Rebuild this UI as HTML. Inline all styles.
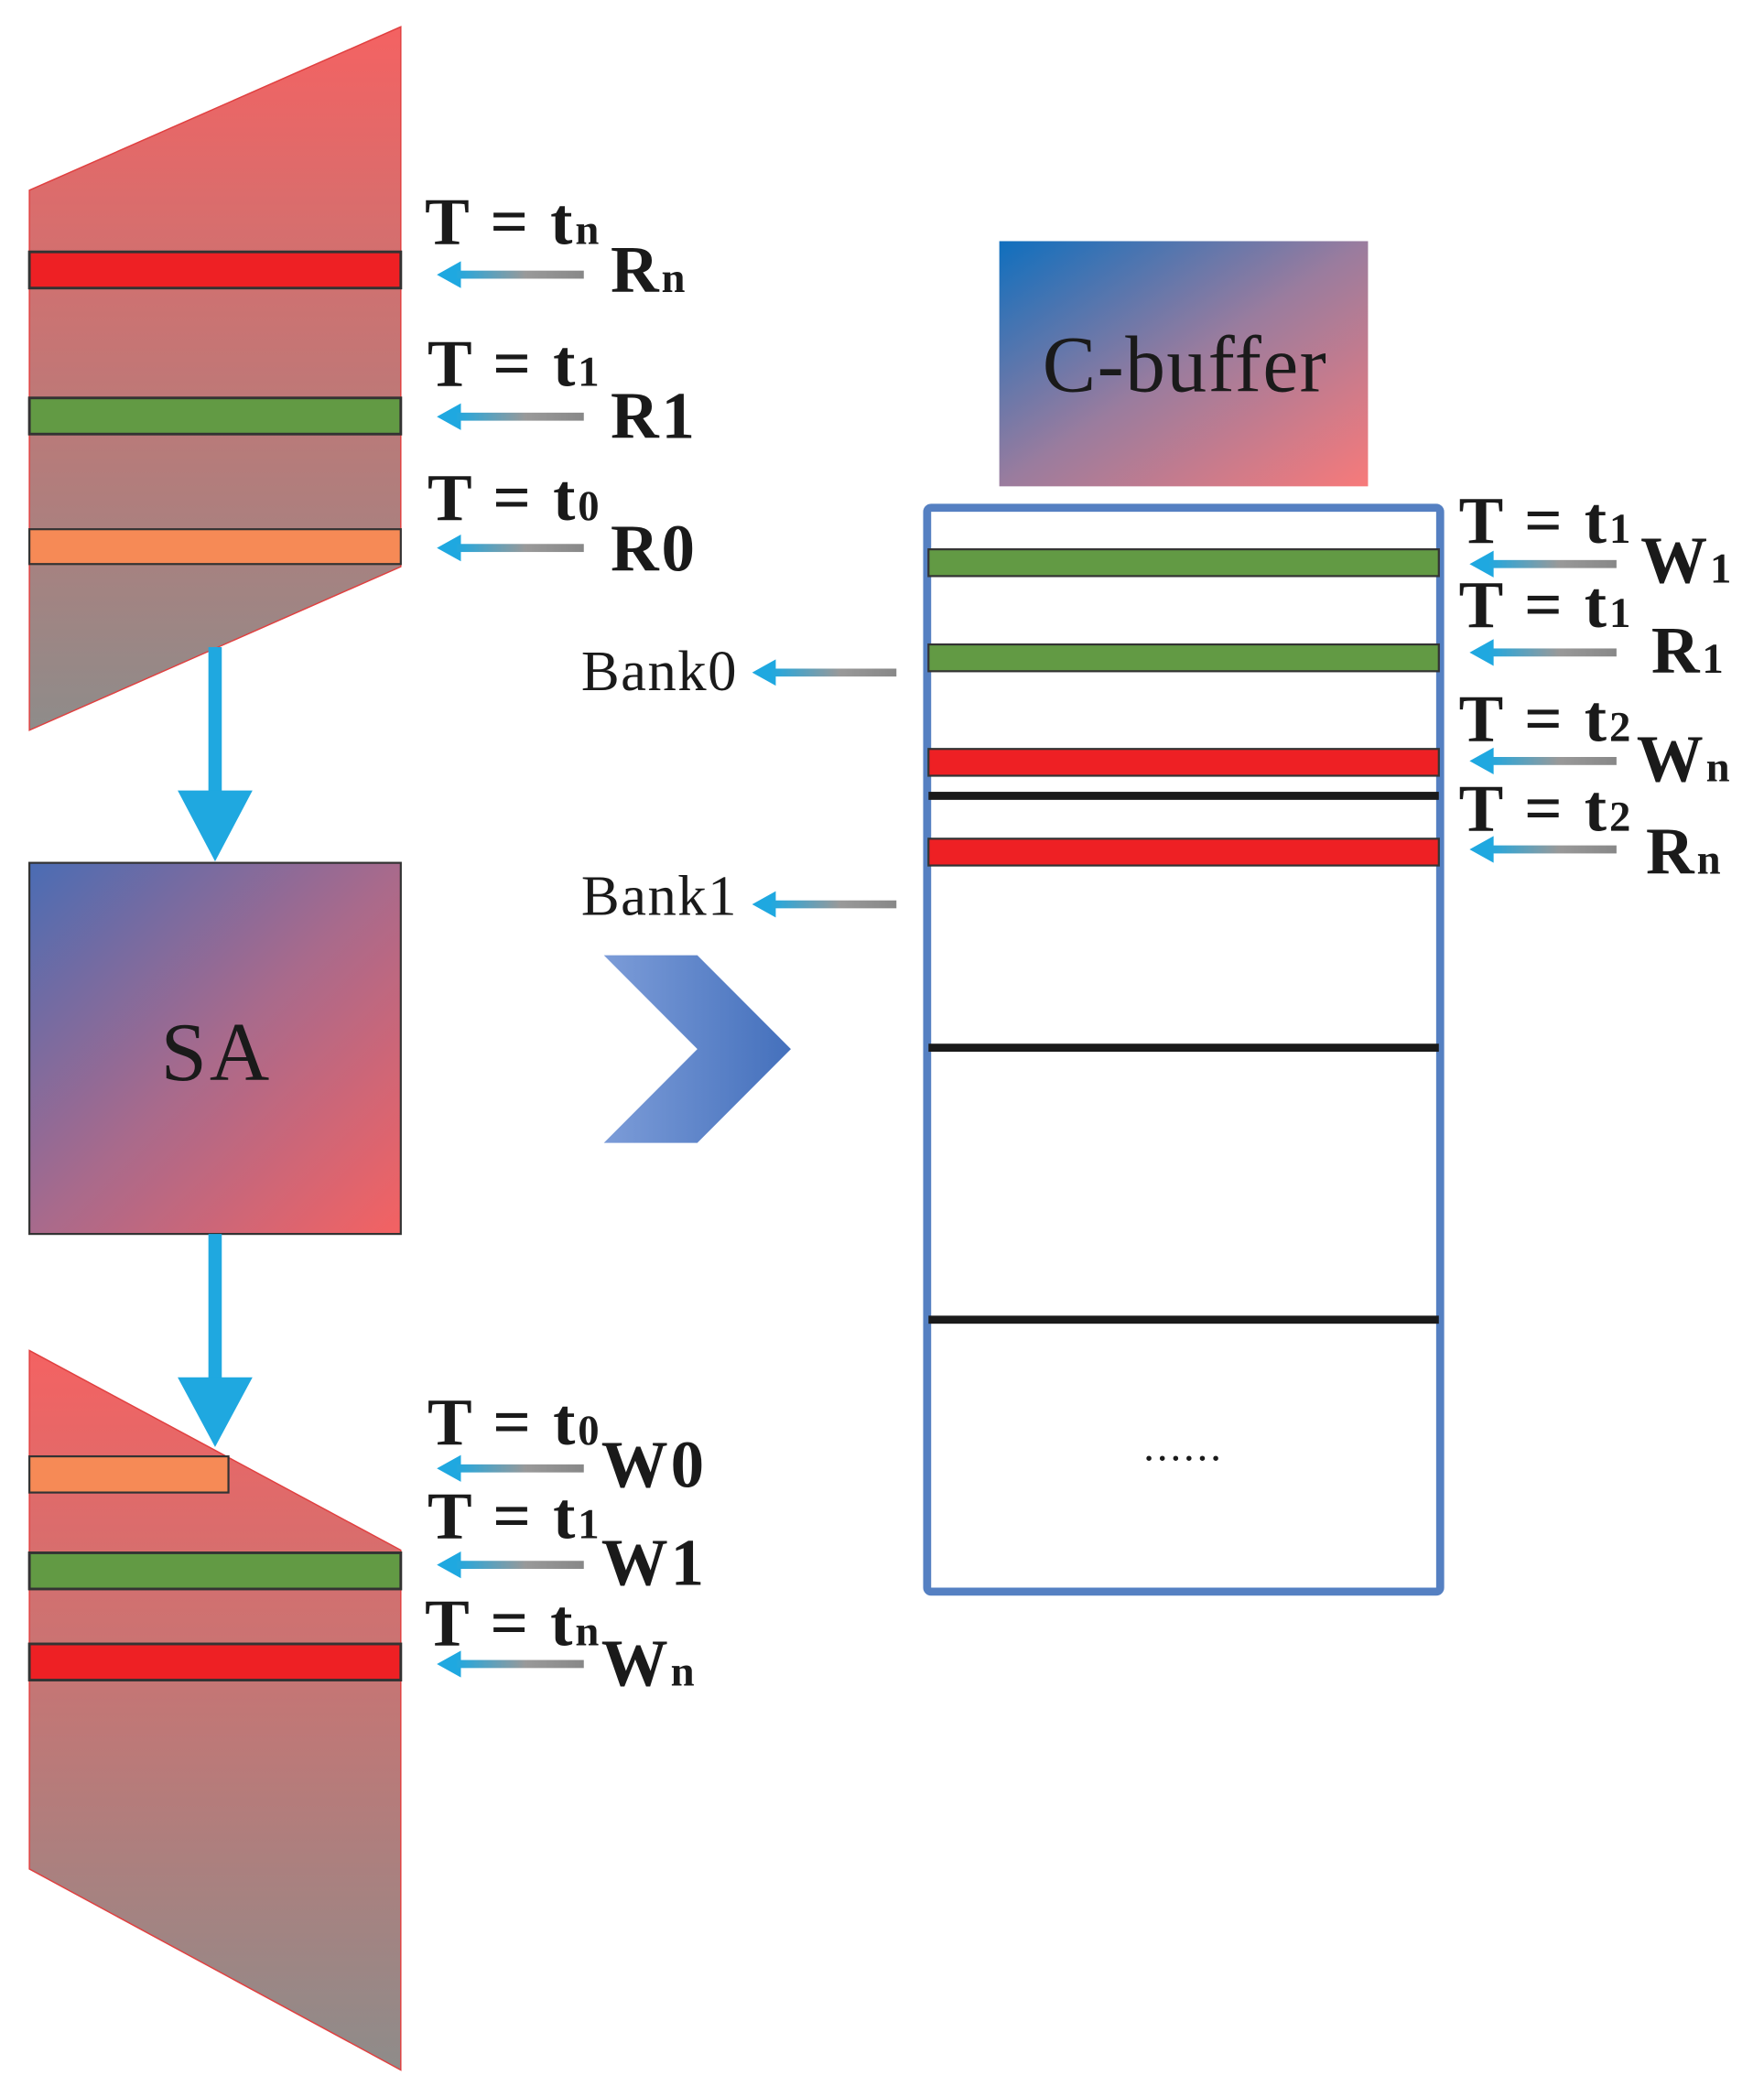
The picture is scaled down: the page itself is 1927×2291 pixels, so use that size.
<!DOCTYPE html>
<html><head><meta charset="utf-8"><style>html,body{margin:0;padding:0;background:#fff}svg{display:block}</style></head>
<body>
<svg width="1927" height="2291" viewBox="0 0 1327 1555" preserveAspectRatio="none" xmlns="http://www.w3.org/2000/svg">
<defs>
<linearGradient id="trap" x1="0" y1="0" x2="0" y2="1"><stop offset="0" stop-color="#f46262"/><stop offset="1" stop-color="#8e8c8a"/></linearGradient>
<linearGradient id="sa" x1="0" y1="0" x2="1" y2="1"><stop offset="0" stop-color="#4a6cb4"/><stop offset="0.5" stop-color="#a86a8c"/><stop offset="1" stop-color="#f46262"/></linearGradient>
<linearGradient id="cb" x1="0" y1="0" x2="1" y2="1"><stop offset="0" stop-color="#0f6fbe"/><stop offset="0.5" stop-color="#9a7c9e"/><stop offset="1" stop-color="#f77a7a"/></linearGradient>
<linearGradient id="chev" x1="0" y1="0" x2="1" y2="0"><stop offset="0" stop-color="#7c9cd8"/><stop offset="1" stop-color="#4470bc"/></linearGradient>
<linearGradient id="arr" x1="0" y1="0" x2="1" y2="0"><stop offset="0" stop-color="#1fa8e0"/><stop offset="0.55" stop-color="#999"/><stop offset="1" stop-color="#888"/></linearGradient>
<symbol id="la" viewBox="0 0 110 20" overflow="visible"><polygon points="0,10 18,0 18,20" fill="#1fa8e0"/><rect x="14" y="7" width="96" height="6" fill="url(#arr)"/></symbol>
</defs>
<style>
.b{font-family:"Liberation Serif",serif;font-weight:bold;font-size:50px;fill:#1a1a1a;letter-spacing:2px}
.s{font-size:32px;letter-spacing:0}
.r{font-family:"Liberation Serif",serif;font-size:43px;fill:#1a1a1a;letter-spacing:1px}
</style>
<g transform="scale(1.005,0.9935)">
<!-- top trapezoid -->
<polygon points="22,142 300,20 300,423 22,545" fill="url(#trap)" stroke="#e04040" stroke-width="1"/>
<rect x="22" y="188" width="278" height="27" fill="#ee2024" stroke="#333" stroke-width="2"/>
<rect x="22" y="297" width="278" height="27" fill="#629a44" stroke="#333" stroke-width="2"/>
<rect x="22" y="395" width="278" height="26" fill="#f68a56" stroke="#333" stroke-width="1.5"/>
<text class="b" x="318" y="182">T = t<tspan class="s">n</tspan></text>
<text class="b" x="457" y="218">R<tspan class="s">n</tspan></text>
<use href="#la" x="327" y="195" width="110" height="20"/>
<text class="b" x="320" y="288">T = t<tspan class="s">1</tspan></text>
<text class="b" x="457" y="327">R1</text>
<use href="#la" x="327" y="301" width="110" height="20"/>
<text class="b" x="320" y="388">T = t<tspan class="s">0</tspan></text>
<text class="b" x="457" y="426">R0</text>
<use href="#la" x="327" y="399" width="110" height="20"/>
<!-- down arrows -->
<rect x="156" y="483" width="10" height="110" fill="#1fa8e0"/>
<polygon points="133,590 189,590 161,643" fill="#1fa8e0"/>
<rect x="22" y="644" width="278" height="277" fill="url(#sa)" stroke="#333" stroke-width="1.5"/>
<text x="162" y="806" text-anchor="middle" font-family="Liberation Serif,serif" font-size="62" fill="#1a1a1a" letter-spacing="2">SA</text>
<!-- bottom trapezoid -->
<polygon points="22,1008 300,1157 300,1545 22,1395" fill="url(#trap)" stroke="#e04040" stroke-width="1"/>
<rect x="156" y="921" width="10" height="110" fill="#1fa8e0"/>
<polygon points="133,1028 189,1028 161,1080" fill="#1fa8e0"/>
<rect x="22" y="1087" width="149" height="27" fill="#f68a56" stroke="#333" stroke-width="1.5"/>
<rect x="22" y="1159" width="278" height="27" fill="#629a44" stroke="#333" stroke-width="2"/>
<rect x="22" y="1227" width="278" height="27" fill="#ee2024" stroke="#333" stroke-width="2"/>
<text class="b" x="320" y="1078">T = t<tspan class="s">0</tspan></text>
<text class="b" x="450" y="1110">W0</text>
<use href="#la" x="327" y="1086" width="110" height="20"/>
<text class="b" x="320" y="1148">T = t<tspan class="s">1</tspan></text>
<text class="b" x="450" y="1183">W1</text>
<use href="#la" x="327" y="1158" width="110" height="20"/>
<text class="b" x="318" y="1228">T = t<tspan class="s">n</tspan></text>
<text class="b" x="450" y="1258">W<tspan class="s">n</tspan></text>
<use href="#la" x="327" y="1232" width="110" height="20"/>
<!-- chevron -->
<polygon points="452,713 522,713 592,783 522,853 452,853 522,783" fill="url(#chev)"/>
<!-- bank labels -->
<text class="r" x="435" y="515">Bank0</text>
<use href="#la" x="563" y="492" width="108" height="20"/>
<text class="r" x="435" y="683">Bank1</text>
<use href="#la" x="563" y="665" width="108" height="20"/>
<!-- C-buffer -->
<rect x="748" y="180" width="276" height="183" fill="url(#cb)"/>
<text x="887" y="292" text-anchor="middle" font-family="Liberation Serif,serif" font-size="60" fill="#1a1a1a" letter-spacing="1">C-buffer</text>
<rect x="694" y="379" width="384" height="809" fill="#fff" stroke="#5580c2" stroke-width="6" rx="3"/>
<rect x="695" y="410" width="382" height="20" fill="#629a44" stroke="#333" stroke-width="1.5"/>
<rect x="695" y="481" width="382" height="20" fill="#629a44" stroke="#333" stroke-width="1.5"/>
<rect x="695" y="559" width="382" height="20" fill="#ee2024" stroke="#333" stroke-width="1.5"/>
<rect x="695" y="591" width="382" height="6" fill="#1a1a1a"/>
<rect x="695" y="626" width="382" height="20" fill="#ee2024" stroke="#333" stroke-width="1.5"/>
<rect x="695" y="779" width="382" height="6" fill="#1a1a1a"/>
<rect x="695" y="982" width="382" height="6" fill="#1a1a1a"/>
<text x="886" y="1090" text-anchor="middle" font-family="Liberation Serif,serif" font-size="32" fill="#1a1a1a" letter-spacing="2">......</text>
<!-- right labels -->
<text class="b" x="1092" y="405">T = t<tspan class="s">1</tspan></text>
<text class="b" x="1228" y="435">W<tspan class="s">1</tspan></text>
<use href="#la" x="1100" y="411" width="110" height="20"/>
<text class="b" x="1092" y="468">T = t<tspan class="s">1</tspan></text>
<text class="b" x="1236" y="502">R<tspan class="s">1</tspan></text>
<use href="#la" x="1100" y="477" width="110" height="20"/>
<text class="b" x="1092" y="553">T = t<tspan class="s">2</tspan></text>
<text class="b" x="1225" y="583">W<tspan class="s">n</tspan></text>
<use href="#la" x="1100" y="558" width="110" height="20"/>
<text class="b" x="1092" y="620">T = t<tspan class="s">2</tspan></text>
<text class="b" x="1232" y="652">R<tspan class="s">n</tspan></text>
<use href="#la" x="1100" y="624" width="110" height="20"/>
</g>
</svg>
</body></html>
